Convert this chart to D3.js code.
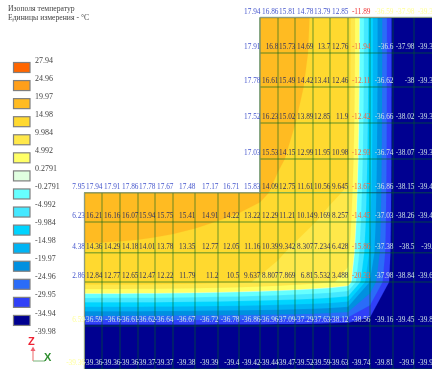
<!DOCTYPE html>
<html><head><meta charset="utf-8">
<script src="https://cdnjs.cloudflare.com/ajax/libs/d3/7.8.5/d3.min.js"></script>
<style>
html,body{margin:0;padding:0;background:#fff;overflow:hidden}
svg{display:block;filter:blur(0.7px)}
text{font-family:"Liberation Serif",serif}
</style></head><body>
<svg id="c" width="432" height="369"></svg>
<script>
const titleLines = ["Изополя температур", "Единицы измерения - °C"];
const legendLabels = ["27.94","24.96","19.97","14.98","9.984","4.992","0.2791","-0.2791","-4.992","-9.984","-14.98","-19.97","-24.96","-29.95","-34.94","-39.98"];
const legendColors = ["#ff6600","#ff9f1a","#ffbb22","#ffd92f","#ffe84a","#ffff66","#e0ffe0","#66ffff","#44e8ff","#00d4ff","#00b4f4","#0090e0","#2a6cf8","#3040f8","#000090"];

// mesh node coordinates, model units
const xMesh = [0,17.5,35.5,53.5,70.5,88.5,110.5,133.5,154.5,175.5,193.5,210.5,228.5,245.5,263.5,285.5,308.5,329.5,351.5];
const yMesh = [0,35.5,69.5,105.5,141.5,175.2,204.5,235.2,264.5,308.5,351.5];

// temperatures at nodes: upper block (from column 9), rows 0..4
const row0 = [17.94,16.86,15.81,14.78,13.79,12.85,-11.89,-36.59,-37.98,-39.36];
const row1 = [17.91,16.8,15.73,14.69,13.7,12.76,-11.94,-36.6,-37.98,-39.36];
const row2 = [17.78,16.61,15.49,14.42,13.41,12.46,-12.11,-36.62,-38,-39.37];
const row3 = [17.52,16.23,15.02,13.89,12.85,11.9,-12.42,-36.66,-38.02,-39.38];
const row4 = [17.03,15.53,14.15,12.99,11.95,10.98,-12.93,-36.74,-38.07,-39.39];
// full-width rows
const row5 = [17.95,17.94,17.91,17.86,17.78,17.67,17.48,17.17,16.71,15.83,14.09,12.75,11.61,10.56,9.645,-13.67,-36.86,-38.15,-39.41];
const row6 = [16.23,16.21,16.16,16.07,15.94,15.75,15.41,14.91,14.22,13.22,12.29,11.21,10.14,9.169,8.257,-14.45,-37.03,-38.26,-39.43];
const row7 = [14.38,14.36,14.29,14.18,14.01,13.78,13.35,12.77,12.05,11.16,10.39,9.342,8.307,7.234,6.428,-15.86,-37.38,-38.5,-39.5];
const row8 = [12.86,12.84,12.77,12.65,12.47,12.22,11.79,11.2,10.5,9.637,8.807,7.869,6.81,5.532,3.488,-20.33,-37.98,-38.84,-39.63];
const row9 = [-36.59,-36.59,-36.6,-36.61,-36.62,-36.64,-36.67,-36.72,-36.78,-36.86,-36.96,-37.09,-37.29,-37.63,-38.12,-38.56,-39.16,-39.45,-39.82];
const row10 = [-39.36,-39.36,-39.36,-39.36,-39.37,-39.37,-39.38,-39.39,-39.4,-39.42,-39.44,-39.47,-39.52,-39.59,-39.63,-39.74,-39.81,-39.9,-39.92];
// labels of the left edge as printed (first digit lost)
const leftLabels = ["7.95","6.23","4.38","2.86","6.59","-39.36"];

const svg = d3.select("#c");
const x = d3.scaleLinear().domain([0,351.5]).range([84.5,436]);
const y = d3.scaleLinear().domain([0,351.5]).range([17.5,369]);
const thresholds = legendLabels.slice(1).reverse().map(Number);   // ascending
const colorsAsc = legendColors.slice().reverse();

function block(rows, xs, ys){
  const nx = xs.length, ny = ys.length;
  const fx = d3.scaleLinear().domain(xs.map((_,i)=>i+.5)).range(xs.map(x)).clamp(true);
  const fy = d3.scaleLinear().domain(ys.map((_,i)=>i+.5)).range(ys.map(y)).clamp(true);
  const cont = d3.contours().size([nx,ny]).smooth(true).thresholds(thresholds)(rows.flat());
  const path = d3.line().x(d=>fx(d[0])).y(d=>fy(d[1]));
  const g = svg.append("g");
  g.append("rect").attr("x",x(xs[0])).attr("y",y(ys[0]))
    .attr("width",x(xs[nx-1])-x(xs[0])).attr("height",y(ys[ny-1])-y(ys[0])).attr("fill",colorsAsc[0]);
  cont.forEach((c,i)=>{
    const col = colorsAsc[Math.min(i,colorsAsc.length-1)];
    const d = c.coordinates.map(poly=>poly.map(r=>path(r)+"Z").join("")).join("");
    g.append("path").attr("d",d).attr("fill",col).attr("fill-rule","evenodd").attr("stroke",col).attr("stroke-width",.2);
  });
}
const upperRows = [row0,row1,row2,row3,row4,row5.slice(9)];
const lowerRows = [row5,row6,row7,row8,row9,row10];
block(upperRows, xMesh.slice(9), yMesh.slice(0,6));
block(lowerRows, xMesh, yMesh.slice(5));

// mesh lines
const gridCol = "rgba(0,100,30,0.42)";
const mesh = svg.append("g").attr("stroke",gridCol).attr("stroke-width",1.4).attr("fill","none");
xMesh.forEach((m,i)=>{
  mesh.append("line").attr("x1",x(m)).attr("x2",x(m))
    .attr("y1",i<9?y(yMesh[5]):y(yMesh[0])).attr("y2",y(yMesh[10]));
});
yMesh.forEach((m,j)=>{
  mesh.append("line").attr("y1",y(m)).attr("y2",y(m))
    .attr("x1",j<5?x(xMesh[9]):x(xMesh[0])).attr("x2",x(xMesh[18]));
});
// outline of the L on its outer top/left corner
svg.append("path").attr("fill","none").attr("stroke","#8f9a80").attr("stroke-width",1)
  .attr("d",d3.line()([[x(xMesh[0]),y(yMesh[10])],[x(xMesh[0]),y(yMesh[5])],[x(xMesh[9]),y(yMesh[5])],[x(xMesh[9]),y(yMesh[0])],[x(xMesh[18]),y(yMesh[0])]]));

// node labels
function txtColor(v,outside){
  if(outside) return v>0?"#4455cc":(v>-30?"#ee3333":"#ffff99");
  if(v>0) return "#33335c";
  if(v>-30) return "#ee6644";
  return "#cfe4e4";
}
const labels = svg.append("g").attr("font-size",7.3).attr("text-anchor","end");
function label(v,i,j,outside,str){
  labels.append("text").attr("x",x(xMesh[i])+.5).attr("y",y(yMesh[j])-3.6)
    .attr("fill",txtColor(v,outside)).text(str===undefined?v:str);
}
[row0,row1,row2,row3,row4].forEach((r,j)=>r.forEach((v,k)=>label(v,k+9,j,j===0||k===0)));
lowerRows.forEach((r,j)=>r.forEach((v,i)=>{
  const outside = i===0 || (j===0 && i<=9);
  label(v,i,j+5,outside,i===0?leftLabels[j]:undefined);
}));

// title
svg.append("g").attr("font-size",7.7).attr("fill","#444").selectAll("text").data(titleLines).join("text")
  .attr("x",8).attr("y",(d,i)=>10.5+i*9.3).text(d=>d);

// legend
const lg = d3.scaleLinear().domain([0,15]).range([60,331]);
svg.append("g").selectAll("rect").data(legendColors).join("rect")
  .attr("x",13.5).attr("width",16.5).attr("height",10)
  .attr("y",(d,i)=>lg(i)+2.5).attr("fill",d=>d).attr("stroke","#7f7f7f").attr("stroke-width",1.2);
svg.append("g").attr("font-size",8).attr("fill","#444").selectAll("text").data(legendLabels).join("text")
  .attr("x",35).attr("y",(d,i)=>lg(i)+2.6).text(d=>d);

// axis triad
const t = svg.append("g");
t.append("line").attr("x1",33).attr("y1",361).attr("x2",33).attr("y2",348).attr("stroke","#f08080").attr("stroke-width",1.2);
t.append("path").attr("d","M30.5,351L33,346.5L35.5,351Z").attr("fill","#f06070");
t.append("line").attr("x1",33).attr("y1",361).attr("x2",45).attr("y2",361).attr("stroke","#90c090").attr("stroke-width",1.2);
t.append("text").attr("x",28).attr("y",345).attr("font-size",11).attr("font-weight","bold").attr("fill","#ee2233").style("font-family","'Liberation Sans',sans-serif").text("Z");
t.append("text").attr("x",44).attr("y",361).attr("font-size",11).attr("font-weight","bold").attr("fill","#2f8f2f").style("font-family","'Liberation Sans',sans-serif").text("X");
</script>
</body></html>
